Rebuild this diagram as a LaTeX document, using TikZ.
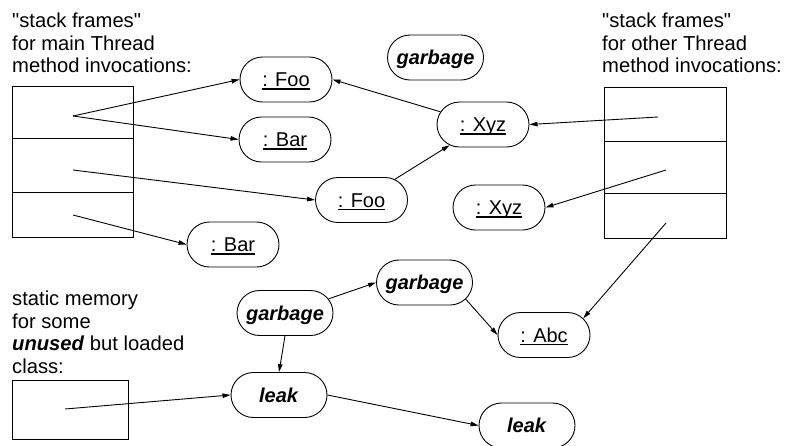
\documentclass[tikz,border=0pt]{standalone}
\usepackage{fontspec}
\setmainfont{Liberation Sans}[Ligatures=TeXOff]
\usetikzlibrary{shapes.misc,arrows.meta}
\newcommand\uln[1]{\setbox0=\hbox{#1}\leavevmode\rlap{\smash{\rule[-3.1pt]{\wd0}{1.6pt}}}\smash{\box0}}
\begin{document}
\begin{tikzpicture}[x=1pt,y=-1pt,
  obj/.style={draw,line width=0.9pt,rounded rectangle,minimum width=92pt,minimum height=45pt,inner sep=0pt,
    text height=14pt,text depth=0pt,font=\fontsize{20}{22.5}\selectfont},
  wide/.style={obj,minimum width=96pt},
  lbl/.style={anchor=north west,inner sep=0pt,align=left,font=\fontsize{20.2}{22.8}\selectfont},
  frame/.style={draw,line width=1pt},
  ref/.style={line width=0.9pt,-{Triangle[length=8pt,width=4.5pt]}},
]
\useasboundingbox (0,0) rectangle (789,445);
% labels
\node[lbl] (tl) at (12,12.5) {"stack frames"\\for main Thread\\method invocations:};
\node[lbl] (tr) at (602,12.5) {"stack frames"\\for other Thread\\method invocations:};
\node[lbl] (bl) at (12,290.5) {static memory\\for some\\\textbf{\textit{unused}} but loaded\\class:};
% stacks
\draw[frame] (12,86) rectangle (133,237);
\draw[frame] (12,138) -- (133,138);
\draw[frame] (12,192) -- (133,192);
\draw[frame] (604,87) rectangle (726,238);
\draw[frame] (604,141) -- (726,141);
\draw[frame] (604,193) -- (726,193);
\draw[frame] (12,380) rectangle (128,439);
% frame points
\coordinate (f1) at (73,116);
\coordinate (f2) at (73,170);
\coordinate (f3) at (73,215);
\coordinate (r1) at (658,117);
\coordinate (r2) at (666,170);
\coordinate (r3) at (666,223);
\coordinate (s1) at (65,409);
% objects
\node[obj] (foo1) at (286,79.5) {\uln{: Foo}};
\node[obj] (bar1) at (285,139.5) {\uln{: Bar}};
\node[obj] (foo2) at (361.5,200) {\uln{: Foo}};
\node[obj] (bar2) at (233,244.5) {\uln{: Bar}};
\node[wide] (gtop) at (435.5,57.5) {\smash{\textbf{\textit{garbage}}}};
\node[obj] (xyz1) at (483,124.5) {\uln{: Xyz}};
\node[obj] (xyz2) at (499,207.5) {\uln{: Xyz}};
\node[wide] (g2) at (285,313) {\smash{\textbf{\textit{garbage}}}};
\node[wide] (g3) at (424.5,282.5) {\smash{\textbf{\textit{garbage}}}};
\node[obj] (abc) at (544,335) {\uln{: Abc}};
\node[wide] (leak1) at (279,395) {\smash{\textbf{\textit{leak}}}};
\node[wide] (leak2) at (527,425.5) {\smash{\textbf{\textit{leak}}}};
% references
\draw[ref] (f1) -- (foo1.west);
\draw[ref] (f1) -- (bar1.west);
\draw[ref] (f2) -- (foo2.west);
\draw[ref] (f3) -- (bar2.west);
\draw[ref] (xyz1) -- (foo1.east);
\draw[ref] (foo2) -- (xyz1);
\draw[ref] (r1) -- (xyz1.east);
\draw[ref] (r2) -- (xyz2.east);
\draw[ref] (r3) -- (abc.23);
\draw[ref] (g2.18) -- (g3.west);
\draw[ref] (g3.-22) -- (abc.west);
\draw[ref] (g2.south) -- (leak1.north);
\draw[ref] (s1) -- (leak1.west);
\draw[ref] (leak1.east) -- (leak2.west);
\end{tikzpicture}
\end{document}
